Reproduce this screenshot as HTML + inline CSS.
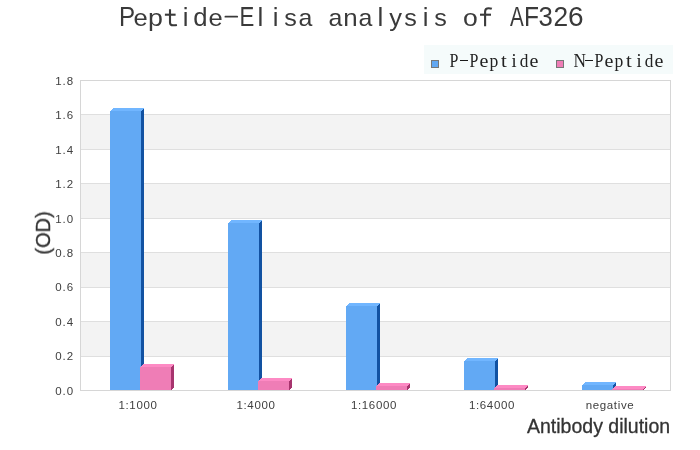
<!DOCTYPE html>
<html><head><meta charset="utf-8"><style>
html,body{margin:0;padding:0;background:#fff;width:700px;height:450px;overflow:hidden;position:relative}
.t{position:absolute;left:117.5px;top:1px;font-family:"Liberation Sans",sans-serif;font-size:26.5px;line-height:32px;color:#3a3a3a;white-space:nowrap}
.t b{font-weight:normal;display:inline-block;width:15px;text-align:center;transform:scaleX(0.88)}
.leg{position:absolute;left:424px;top:45px;width:249px;height:29px;background:#f5fbfb}
.sq{position:absolute;width:6px;height:6px;border:1px solid #777}
.lt{position:absolute;font-family:"Liberation Serif",serif;font-size:16px;color:#222;white-space:nowrap;line-height:18px;transform:scaleY(1.2);transform-origin:0 0}
.lt b{font-weight:normal;display:inline-block;width:10px;text-align:center}

.yl{position:absolute;left:20px;width:54.2px;text-align:right;font-family:"Liberation Sans",sans-serif;font-size:11.5px;letter-spacing:1px;color:#404040;line-height:16px}
.xl{position:absolute;top:396.7px;width:100px;text-align:center;font-family:"Liberation Sans",sans-serif;font-size:11.5px;letter-spacing:0.65px;color:#404040;line-height:16px}
.xt{position:absolute;right:30px;top:414.2px;font-family:"Liberation Sans",sans-serif;font-size:19.5px;-webkit-text-stroke:0.3px #333;color:#333;white-space:nowrap;line-height:24px}
.yt{position:absolute;left:42.7px;top:233px;font-family:"Liberation Sans",sans-serif;font-size:20px;-webkit-text-stroke:0.3px #333;color:#333;white-space:nowrap;line-height:24px;transform:translate(-50%,-50%) rotate(-90deg)}
svg{position:absolute;left:0;top:0}
div{will-change:transform}
.bar{position:absolute}
</style></head><body>
<svg width="700" height="450" viewBox="0 0 700 450" shape-rendering="crispEdges"><rect x="80" y="114.44444444444444" width="590" height="34.44444444444444" fill="#f3f3f3"/><rect x="80" y="183.33333333333331" width="590" height="34.44444444444446" fill="#f3f3f3"/><rect x="80" y="252.22222222222223" width="590" height="34.4444444444444" fill="#f3f3f3"/><rect x="80" y="321.1111111111111" width="590" height="34.44444444444446" fill="#f3f3f3"/><line x1="80" y1="114.5" x2="670" y2="114.5" stroke="#dfdfdf" stroke-width="1"/><line x1="80" y1="149.5" x2="670" y2="149.5" stroke="#dfdfdf" stroke-width="1"/><line x1="80" y1="183.5" x2="670" y2="183.5" stroke="#dfdfdf" stroke-width="1"/><line x1="80" y1="218.5" x2="670" y2="218.5" stroke="#dfdfdf" stroke-width="1"/><line x1="80" y1="252.5" x2="670" y2="252.5" stroke="#dfdfdf" stroke-width="1"/><line x1="80" y1="287.5" x2="670" y2="287.5" stroke="#dfdfdf" stroke-width="1"/><line x1="80" y1="321.5" x2="670" y2="321.5" stroke="#dfdfdf" stroke-width="1"/><line x1="80" y1="356.5" x2="670" y2="356.5" stroke="#dfdfdf" stroke-width="1"/><rect x="80.5" y="80.5" width="590" height="310" fill="none" stroke="#d6d6d6" stroke-width="1"/></svg>
<svg width="700" height="450" viewBox="0 0 700 450" shape-rendering="crispEdges"><rect x="110" y="111" width="31" height="279" fill="#62a9f4"/><polygon points="110,111 113,108 144,108 141,111" fill="#71b6ff"/><polygon points="141,111 144,108 144,387 141,390" fill="#1252a2"/><rect x="140" y="367" width="31" height="23" fill="#ef7db6"/><polygon points="140,367 143,364 174,364 171,367" fill="#fd8ac4"/><polygon points="171,367 174,364 174,387 171,390" fill="#a7346e"/><rect x="228" y="223" width="31" height="167" fill="#62a9f4"/><polygon points="228,223 231,220 262,220 259,223" fill="#71b6ff"/><polygon points="259,223 262,220 262,387 259,390" fill="#1252a2"/><rect x="258" y="381" width="31" height="9" fill="#ef7db6"/><polygon points="258,381 261,378 292,378 289,381" fill="#fd8ac4"/><polygon points="289,381 292,378 292,387 289,390" fill="#a7346e"/><rect x="346" y="306" width="31" height="84" fill="#62a9f4"/><polygon points="346,306 349,303 380,303 377,306" fill="#71b6ff"/><polygon points="377,306 380,303 380,387 377,390" fill="#1252a2"/><rect x="376" y="386" width="31" height="4" fill="#ef7db6"/><polygon points="376,386 379,383 410,383 407,386" fill="#fd8ac4"/><polygon points="407,386 410,383 410,387 407,390" fill="#a7346e"/><rect x="464" y="361" width="31" height="29" fill="#62a9f4"/><polygon points="464,361 467,358 498,358 495,361" fill="#71b6ff"/><polygon points="495,361 498,358 498,387 495,390" fill="#1252a2"/><rect x="494" y="388" width="31" height="2" fill="#ef7db6"/><polygon points="494,388 497,385 528,385 525,388" fill="#fd8ac4"/><polygon points="525,388 528,385 528,387 525,390" fill="#a7346e"/><rect x="582" y="385" width="31" height="5" fill="#62a9f4"/><polygon points="582,385 585,382 616,382 613,385" fill="#71b6ff"/><polygon points="613,385 616,382 616,387 613,390" fill="#1252a2"/><rect x="612" y="389" width="31" height="1" fill="#ef7db6"/><polygon points="612,389 615,386 646,386 643,389" fill="#fd8ac4"/><polygon points="643,389 646,386 646,387 643,390" fill="#a7346e"/></svg>
<div class="t"><b style="font-size:27.9px;transform:scaleX(0.865)">P</b><b style="font-size:24.2px;transform:scaleX(1.057)">e</b><b style="font-size:24.2px;transform:scaleX(1.107)">p</b><b>&nbsp;</b><b style="font-size:25.7px;transform:scaleX(1.0)">i</b><b style="font-size:26.2px;transform:scaleX(0.98)">d</b><b style="font-size:24.2px;transform:scaleX(1.057)">e</b><b>&nbsp;</b><b style="font-size:27.9px;transform:scaleX(0.795)">E</b><b style="font-size:26.2px;transform:scaleX(1.0)">l</b><b style="font-size:25.7px;transform:scaleX(1.0)">i</b><b style="font-size:24.2px;transform:scaleX(1.04)">s</b><b style="font-size:24.2px;transform:scaleX(1.03)">a</b><b>&nbsp;</b><b style="font-size:24.2px;transform:scaleX(1.03)">a</b><b style="font-size:24.2px;transform:scaleX(1.07)">n</b><b style="font-size:24.2px;transform:scaleX(1.03)">a</b><b style="font-size:26.2px;transform:scaleX(1.0)">l</b><b style="font-size:24.2px;transform:scaleX(1.054)">y</b><b style="font-size:24.2px;transform:scaleX(1.04)">s</b><b style="font-size:25.7px;transform:scaleX(1.0)">i</b><b style="font-size:24.2px;transform:scaleX(1.04)">s</b><b>&nbsp;</b><b style="font-size:24.2px;transform:scaleX(1.097)">o</b><b>&nbsp;</b><b>&nbsp;</b><b style="font-size:27.9px;transform:scaleX(0.74)">A</b><b style="font-size:27.9px;transform:scaleX(0.88)">F</b><b style="font-size:28px;transform:scaleX(0.92)">3</b><b style="font-size:28px;transform:scaleX(0.94)">2</b><b style="font-size:28px;transform:scaleX(1.0)">6</b></div>
<svg width="700" height="40" viewBox="0 0 700 40" style="position:absolute;left:0;top:0"><g fill="none" stroke="#3a3a3a" stroke-width="2.1"><path d="M170,9.3 V22.4 Q170,25.3 173.3,25.3 Q175.3,25.3 176.9,24.9"/><path d="M164.9,14.7 H175.6"/><path d="M485.1,26.3 V11.6 Q485.1,8.2 488.7,8.2 Q490.4,8.2 491.8,8.8"/><path d="M480,14.7 H491"/><path d="M225.4,16.65 H237.2" stroke-width="1.8" stroke-linecap="round"/></g></svg>

<div class="leg"></div>
<div class="sq" style="left:431px;top:60px;background:#62a8f2"></div>
<div class="lt" style="left:448.7px;top:50px"><b style="transform:scaleX(1.0)">P</b><b style="transform:scaleX(1)"> </b><b style="transform:scaleX(1.0)">P</b><b style="transform:scaleX(1.25)">e</b><b style="transform:scaleX(1.1)">p</b><b style="transform:scaleX(1.3)">t</b><b style="transform:scaleX(1.15)">i</b><b style="transform:scaleX(1.08)">d</b><b style="transform:scaleX(1.25)">e</b></div>
<div class="bar" style="left:460px;top:60px;width:8px;height:1px;background:#1a1a1a"></div>
<div class="sq" style="left:556px;top:60px;background:#ef7db6"></div>
<div class="lt" style="left:573.7px;top:50px"><b style="transform:scaleX(1.08)">N</b><b style="transform:scaleX(1)"> </b><b style="transform:scaleX(1.0)">P</b><b style="transform:scaleX(1.25)">e</b><b style="transform:scaleX(1.1)">p</b><b style="transform:scaleX(1.3)">t</b><b style="transform:scaleX(1.15)">i</b><b style="transform:scaleX(1.08)">d</b><b style="transform:scaleX(1.25)">e</b></div>
<div class="bar" style="left:585px;top:60px;width:8px;height:1px;background:#1a1a1a"></div>
<div class="yl" style="top:72.7px">1.8</div><div class="yl" style="top:107.1px">1.6</div><div class="yl" style="top:141.6px">1.4</div><div class="yl" style="top:176.0px">1.2</div><div class="yl" style="top:210.5px">1.0</div><div class="yl" style="top:244.9px">0.8</div><div class="yl" style="top:279.4px">0.6</div><div class="yl" style="top:313.8px">0.4</div><div class="yl" style="top:348.3px">0.2</div><div class="yl" style="top:382.7px">0.0</div>
<div class="xl" style="left:87.80000000000001px">1:1000</div><div class="xl" style="left:205.8px">1:4000</div><div class="xl" style="left:323.8px">1:16000</div><div class="xl" style="left:441.8px">1:64000</div><div class="xl" style="left:559.8px">negative</div>
<div class="xt">Antibody dilution</div>
<div class="yt">(OD)</div>
</body></html>
